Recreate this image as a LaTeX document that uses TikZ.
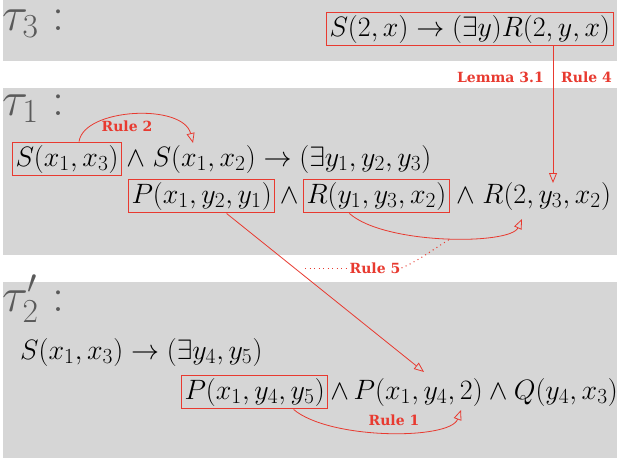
\RequirePackage{fix-cm}
\documentclass[tikz,border=0pt]{standalone}
\usepackage{amsmath,amsfonts,amssymb}
\usepackage{fontspec}
\usepackage{xcolor}
\usepackage{tikz}
\usetikzlibrary{arrows.meta, positioning, calc}

\newfontfamily\rulefont{DejaVu Serif}
\DeclareMathSizes{28}{28}{21.5}{16}
\scriptspace=0.8pt

\definecolor{bandgray}{RGB}{214,214,214}
\definecolor{rulered}{RGB}{232,58,48}
\definecolor{taugray}{RGB}{90,90,90}

\tikzset{
  band/.style={fill=bandgray, draw=none},
  formula/.style={font=\fontsize{28}{33}\selectfont, inner sep=3pt, anchor=base west},
  hl/.style={draw=rulered, line width=1pt},
  taulbl/.style={text=taugray, font=\fontsize{48}{56}\selectfont, inner sep=0pt, anchor=base west},
  rulelbl/.style={text=rulered, font=\rulefont\bfseries\fontsize{14}{16}\selectfont, inner sep=1pt},
  rulearrow/.style={draw=rulered, line width=0.8pt, -{Triangle[open, length=10pt, width=8pt]}},
  ruledots/.style={draw=rulered, line width=1pt, dash pattern=on 1pt off 3.5pt},
}

\begin{document}
\begin{tikzpicture}[x=1pt, y=-1pt]

    \useasboundingbox (0,0) rectangle (617,461);
    \fill[white] (0,0) rectangle (617,461);

    \fill[band] (3,0) rectangle (617,61);
    \fill[band] (3,88) rectangle (617,255);
    \fill[band] (3,282) rectangle (617,458);

    % tau_3
    \node[taulbl] (t3lbl) at (2,30) {$\tau_3$\;:};
    \node[formula, hl] (t3box) at (326,36) {$S(2,x) \rightarrow (\exists y) R(2,y,x)$};

    % tau_1
    \node[taulbl] (t1lbl) at (2,115) {$\tau_1$\;:};
    \node[formula, hl] (s13) at (12,166) {$S(x_1,x_3)$};
    \node[formula, base right=1pt of s13] (t1head) {$\wedge\; S(x_1,x_2) \rightarrow (\exists y_1, y_2, y_3)$};
    \node[formula, hl] (p1) at (128,203) {$P(x_1,y_2,y_1)$};
    \node[formula, hl] (r1) at (303,203) {$R(y_1,y_3,x_2)$};
    \node[formula, anchor=base] (and1) at ($(p1.base east)!0.5!(r1.base west)$) {$\wedge$};
    \node[formula, base right=3pt of r1] (r2) {$\wedge\; R(2,y_3,x_2)$};

    % tau_2'
    \node[taulbl] (t2lbl) at (2,311) {$\tau'_2$\;:};
    \node[formula] (t2head) at (17,359) {$S(x_1,x_3) \rightarrow (\exists y_4, y_5)$};
    \node[formula, hl] (p2) at (181,399) {$P(x_1,y_4,y_5)$};
    \node[formula, base right=-1pt of p2] (t2tail) {$\wedge\, P(x_1,y_4,2) \wedge Q(y_4,x_3)$};

    \coordinate (in4) at (553,183);
    \coordinate (in2) at (193,143);
    \coordinate (in5) at (522,219);
    \coordinate (inp) at (424,372);
    \coordinate (in1) at (461,410);

    % rules
    \draw[rulearrow] (t3box.south -| in4) -- (in4);
    \node[rulelbl, anchor=east] (lem) at (545,77) {Lemma 3.1};
    \node[rulelbl, anchor=west] (rule4) at (560,77) {Rule 4};

    \draw[rulearrow] ([xshift=12pt]s13.north) .. controls (84,108) and (183,103) .. (in2);
    \node[rulelbl] (rule2) at (127,126) {Rule 2};

    \draw[rulearrow] ([xshift=-27pt]r1.south) .. controls (385,245) and (510,245) .. (in5);
    \draw[rulearrow] ([xshift=25pt]p1.south) -- (inp);

    \node[rulelbl] (rule5) at (375,268) {Rule 5};
    \coordinate (d5a) at (305,268);
    \coordinate (d5b) at (450,239);
    \draw[ruledots] (d5a) -- (rule5.west);
    \draw[ruledots] (rule5.east) .. controls (420,260) and (435,248) .. (d5b);

    \draw[rulearrow] ([xshift=39pt]p2.south) .. controls (330,440) and (450,440) .. (in1);
    \node[rulelbl] (rule1) at (394,420) {Rule 1};

\end{tikzpicture}
\end{document}
